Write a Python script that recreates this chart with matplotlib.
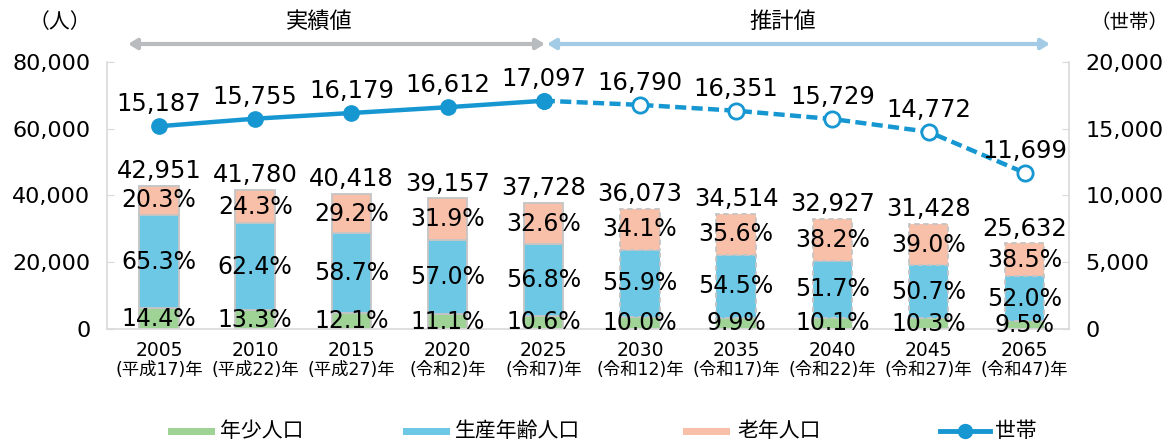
import matplotlib
matplotlib.use("Agg")
import matplotlib.pyplot as plt
from matplotlib.patches import FancyArrowPatch, Rectangle
from matplotlib.lines import Line2D
import numpy as np

plt.rcParams['font.family'] = ['DejaVu Sans', 'Noto Sans CJK JP']

years = ['2005', '2010', '2015', '2020', '2025', '2030', '2035', '2040', '2045', '2065']
eras = ['(平成17)年', '(平成22)年', '(平成27)年', '(令和2)年', '(令和7)年',
        '(令和12)年', '(令和17)年', '(令和22)年', '(令和27)年', '(令和47)年']
totals = [42951, 41780, 40418, 39157, 37728, 36073, 34514, 32927, 31428, 25632]
young_pct = [14.4, 13.3, 12.1, 11.1, 10.6, 10.0, 9.9, 10.1, 10.3, 9.5]
working_pct = [65.3, 62.4, 58.7, 57.0, 56.8, 55.9, 54.5, 51.7, 50.7, 52.0]
old_pct = [20.3, 24.3, 29.2, 31.9, 32.6, 34.1, 35.6, 38.2, 39.0, 38.5]
households = [15187, 15755, 16179, 16612, 17097, 16790, 16351, 15729, 14772, 11699]
n_actual = 5  # 2005-2025 actual, rest projected

c_young = '#9fd396'
c_work = '#6dc8e5'
c_old = '#f8bfa9'
c_line = '#1697d1'
c_edge = '#c4c4c4'
c_spine = '#d9d9d9'

W, H = 1171, 443
fig = plt.figure(figsize=(W / 100, H / 100), dpi=100)
ax = fig.add_axes([107 / W, (H - 329) / H, 962 / W, 267 / H])

x = np.arange(len(years))
tot = np.array(totals, float)
yv = tot * np.array(young_pct) / 100
wv = tot * np.array(working_pct) / 100
ov = tot - yv - wv

bw = 0.41
for i in range(len(years)):
    ls = '-' if i < n_actual else (0, (3, 2))
    ax.bar(x[i], yv[i], bw, color=c_young, edgecolor=c_edge, linewidth=1.3, linestyle=ls, zorder=2)
    ax.bar(x[i], wv[i], bw, bottom=yv[i], color=c_work, edgecolor=c_edge, linewidth=1.3, linestyle=ls, zorder=2)
    ax.bar(x[i], ov[i], bw, bottom=yv[i] + wv[i], color=c_old, edgecolor=c_edge, linewidth=1.3, linestyle=ls, zorder=2)

fs_pct = 17
for i in range(len(years)):
    ax.text(x[i], yv[i] / 2, f'{young_pct[i]:.1f}%', ha='center', va='center', fontsize=fs_pct, zorder=5)
    ax.text(x[i], yv[i] + wv[i] / 2, f'{working_pct[i]:.1f}%', ha='center', va='center', fontsize=fs_pct, zorder=5)
    ax.text(x[i], yv[i] + wv[i] + ov[i] / 2, f'{old_pct[i]:.1f}%', ha='center', va='center', fontsize=fs_pct, zorder=5)
    ax.annotate(f'{totals[i]:,}', (x[i], tot[i]), xytext=(0, 2), textcoords='offset points',
                ha='center', va='bottom', fontsize=17.5, zorder=5)

ax.set_xlim(-0.54, 9.46)
ax.set_ylim(0, 80000)
ax.set_yticks([0, 20000, 40000, 60000, 80000])
ax.set_yticklabels(['0', '20,000', '40,000', '60,000', '80,000'], fontsize=16)
ax.set_xticks(x)
ax.set_xticklabels(['' for _ in years])
ax.tick_params(axis='x', length=0)
ax.tick_params(axis='y', direction='in', length=5, color=c_spine, pad=12)
for s in ['left', 'bottom', 'right']:
    ax.spines[s].set_color(c_spine)
    ax.spines[s].set_linewidth(1.2)
ax.spines['top'].set_visible(False)

for i in range(len(years)):
    ax.annotate(years[i], (x[i], 0), xytext=(0, -22), textcoords='offset pixels',
                ha='center', va='center', fontsize=13.5)
    ax.annotate(eras[i], (x[i], 0), xytext=(0, -41), textcoords='offset pixels',
                ha='center', va='center', fontsize=12.5)

ax2 = ax.twinx()
ax2.set_ylim(0, 20000)
ax2.set_yticks([0, 5000, 10000, 15000, 20000])
ax2.set_yticklabels(['0', '5,000', '10,000', '15,000', '20,000'], fontsize=16)
ax2.tick_params(axis='y', direction='in', length=5, color=c_spine, pad=12)
for s in ax2.spines.values():
    s.set_visible(False)

hh = np.array(households, float)
ax2.plot(x[:n_actual], hh[:n_actual], color=c_line, lw=3.2, marker='o', ms=11,
         mfc=c_line, mec=c_line, zorder=6, solid_capstyle='round')
ax2.plot(x[n_actual - 1:], hh[n_actual - 1:], color=c_line, lw=3.2, ls=(0, (2.5, 1.2)), zorder=6)
ax2.plot(x[n_actual:], hh[n_actual:], ls='none', marker='o', ms=11, mfc='white',
         mec=c_line, mew=2, zorder=7)
ax2.plot(x[n_actual - 1], hh[n_actual - 1], ls='none', marker='o', ms=11, mfc=c_line, mec=c_line, zorder=7)
for i in range(len(years)):
    ax2.annotate(f'{households[i]:,}', (x[i], hh[i]), xytext=(0, 10), textcoords='offset pixels',
                 ha='center', va='bottom', fontsize=17.5, zorder=8)


def fx(px):
    return px / W


def fy(py):
    return (H - py) / H


fig.text(fx(60), fy(22), '（人）', ha='center', va='center', fontsize=15, family=['Noto Sans CJK JP'])
fig.text(fx(1130), fy(22), '（世帯）', ha='center', va='center', fontsize=14, family=['Noto Sans CJK JP'])
fig.text(fx(319), fy(21), '実績値', ha='center', va='center', fontsize=16, family=['Noto Sans CJK JP'])
fig.text(fx(783), fy(21), '推計値', ha='center', va='center', fontsize=16, family=['Noto Sans CJK JP'])

for (x0, x1, col) in [(128, 545, '#b9bcbe'), (547, 1050, '#a3cbe6')]:
    arr = FancyArrowPatch((fx(x0), fy(44)), (fx(x1), fy(44)), transform=fig.transFigure,
                          arrowstyle='<|-|>,head_length=5,head_width=3', color=col, lw=3,
                          shrinkA=0, shrinkB=0, mutation_scale=1)
    fig.add_artist(arr)

# legend
ly = fy(431)
items = [(168, 220, c_young, '年少人口'), (403, 455, c_work, '生産年齢人口'), (683, 737, c_old, '老年人口')]
for (px0, tx, col, lab) in items:
    fig.add_artist(Rectangle((fx(px0), fy(435)), fx(47), 7 / H, transform=fig.transFigure,
                             facecolor=col, edgecolor='none'))
    fig.text(fx(tx), ly, lab, ha='left', va='center', fontsize=15, family=['Noto Sans CJK JP'])
fig.add_artist(Line2D([fx(940), fx(990)], [ly, ly], transform=fig.transFigure, color=c_line, lw=3.5))
fig.add_artist(Line2D([fx(965)], [ly], transform=fig.transFigure, color=c_line, marker='o', ms=10))
fig.text(fx(995), ly, '世帯', ha='left', va='center', fontsize=15, family=['Noto Sans CJK JP'])

fig.savefig('out.png', dpi=100)
